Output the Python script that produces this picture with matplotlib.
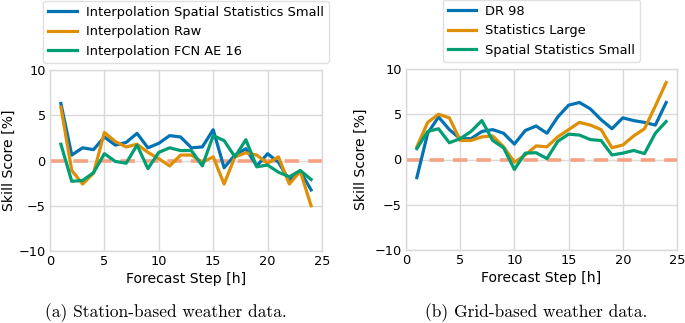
import matplotlib
matplotlib.use("Agg")
import matplotlib.pyplot as plt
import numpy as np

steps = list(range(1, 25))

# Left: station-based
left_labels = ["Interpolation Spatial Statistics Small", "Interpolation Raw", "Interpolation FCN AE 16"]
left_blue = [6.3, 0.6, 1.4, 1.2, 2.6, 1.7, 2.0, 3.0, 1.4, 1.9, 2.75, 2.6,
             1.4, 1.5, 3.4, -0.8, 0.6, 1.3, -0.6, 0.75, -0.2, -2.2, -1.2, -3.25]
left_orange = [5.9, -1.1, -2.6, -1.4, 3.1, 2.1, 1.5, 1.8, 0.9, 0.2, -0.6, 0.6,
               0.6, -0.2, 0.4, -2.6, 0.4, 0.85, 0.6, -0.3, 0.4, -2.6, -1.2, -5.0]
left_green = [1.8, -2.3, -2.2, -1.35, 0.75, -0.1, -0.3, 1.7, -0.9, 0.9, 1.4, 1.1,
              1.1, -0.6, 2.75, 2.2, 0.4, 2.3, -0.7, -0.5, -1.3, -1.8, -1.1, -2.1]

# Right: grid-based
right_labels = ["DR 98", "Statistics Large", "Spatial Statistics Small"]
right_blue = [-2.0, 2.9, 4.7, 3.3, 2.3, 2.3, 3.1, 3.3, 2.9, 1.7, 3.2, 3.7,
              2.9, 4.7, 6.0, 6.3, 5.6, 4.4, 3.4, 4.6, 4.3, 4.1, 3.8, 6.3]
right_orange = [1.4, 4.1, 5.0, 4.6, 2.1, 2.1, 2.5, 2.6, 1.4, -0.3, 0.5, 1.5,
                1.4, 2.5, 3.3, 4.1, 3.8, 3.3, 1.3, 1.6, 2.6, 3.4, 5.9, 8.5]
right_green = [1.2, 3.1, 3.4, 1.85, 2.3, 3.1, 4.3, 2.1, 1.3, -1.1, 0.7, 0.75,
               0.1, 2.0, 2.8, 2.7, 2.2, 2.1, 0.5, 0.7, 1.0, 0.65, 2.9, 4.2]

captions = ["(a) Station-based weather data.", "(b) Grid-based weather data."]
xticks = [0, 5, 10, 15, 20, 25]
yticks = [-10, -5, 0, 5, 10]

colors = ["#0173b2", "#de8f05", "#029e73"]
tfs = 9.3
fs = 10.1
lfs = 9.4

fig = plt.figure(figsize=(6.85, 3.23), dpi=100)
W, H = 685, 323

def make_ax(x0, x1, y0, y1):
    return fig.add_axes([x0 / W, 1 - y1 / H, (x1 - x0) / W, (y1 - y0) / H])

axes = [make_ax(50, 322, 70, 251), make_ax(406, 677, 69, 250)]
data = [(left_labels, [left_blue, left_orange, left_green]),
        (right_labels, [right_blue, right_orange, right_green])]
ylab_x = [-0.126, -0.139]

for ax, (labels, series), lx in zip(axes, data, ylab_x):
    ax.set_facecolor("white")
    ax.grid(True, color="#d9d9d9", linewidth=1.0)
    ax.set_axisbelow(True)
    for s in ax.spines.values():
        s.set_color("#d9d9d9")
        s.set_linewidth(1.0)
    ax.axhline(0, color="#f5a282", linestyle=(0, (4, 2.5)), linewidth=2.6, zorder=2)
    for vals, lab, c in zip(series, labels, colors):
        ax.plot(steps, vals, color=c, linewidth=2.3, label=lab, zorder=3)
    ax.set_xlim(0, 25)
    ax.set_ylim(-10, 10)
    ax.set_xticks(xticks)
    ax.set_yticks(yticks)
    ax.tick_params(labelsize=tfs, length=0, pad=3)
    ax.set_xlabel("Forecast Step [h]", fontsize=fs, labelpad=3)
    ax.set_ylabel("Skill Score [%]", fontsize=fs)
    ax.yaxis.set_label_coords(lx, 0.5)
    leg = ax.legend(loc="lower center", bbox_to_anchor=(0.5, 1.04), fontsize=lfs,
                    frameon=True, fancybox=True, handlelength=2.2, handletextpad=0.7,
                    labelspacing=0.5, borderpad=0.38, borderaxespad=0)
    leg.get_frame().set_edgecolor("#d9d9d9")

fig.text(166 / W, 1 - 313 / H, captions[0], ha="center", va="center",
         fontsize=12.5, family="cmr10")
fig.text(536 / W, 1 - 313 / H, captions[1], ha="center", va="center",
         fontsize=12.5, family="cmr10")

fig.savefig("out.png", dpi=100, facecolor="white")
